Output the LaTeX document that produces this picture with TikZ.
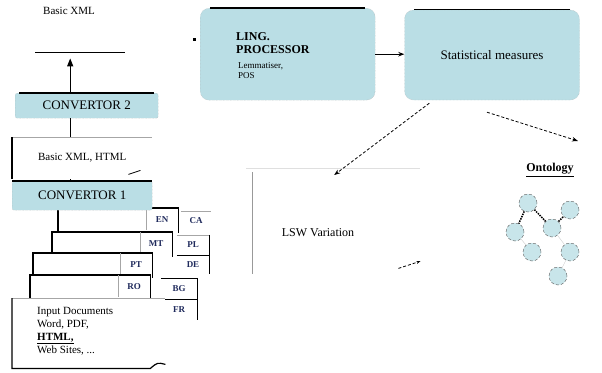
\documentclass[tikz,border=0pt]{standalone}
\usepackage{fontspec}
\setmainfont{Liberation Serif}
\usetikzlibrary{arrows.meta, positioning, calc}
\definecolor{procblue}{HTML}{BADEE5}
\definecolor{tagblue}{HTML}{1F2A5C}

\begin{document}
\begin{tikzpicture}[x=1pt, y=-1pt,
  every node/.style={inner sep=0pt},
  procbox/.style={draw=gray!60, densely dotted, fill=procblue, rounded corners=9pt},
  convbox/.style={draw=gray!60, densely dotted, fill=procblue, rounded corners=2pt, font=\fontsize{13}{15}\selectfont},
  txt/.style={anchor=north west, align=left, font=\fontsize{11}{13}\selectfont},
  tag/.style={text=tagblue, font=\fontsize{9}{10}\selectfont\bfseries},
  doc/.style={fill=white},
  edge/.style={line width=1.2pt},
  dasharrow/.style={densely dashed, thick, -{Stealth[length=6pt]}},
  concept/.style={circle, minimum size=18pt, draw=gray!70!black, densely dashed, fill=procblue!80},
]
\useasboundingbox (0,0) rectangle (602,372);

\node[minimum width=100pt, minimum height=52pt, anchor=north west] (outxml) at (30,0) {};
\node[txt] (outxmltxt) at (43,7) {Basic XML};
\draw[edge] ([xshift=5pt]outxml.south west) -- ([xshift=-5pt]outxml.south east);

\node[convbox, minimum width=143pt, minimum height=25pt, anchor=north west] (conv2) at (15,93) {CONVERTOR 2};
\draw[edge] ([xshift=4pt]conv2.north west) -- ([xshift=-4pt]conv2.north east);
\draw[edge, -{Triangle[length=8pt, width=6pt]}] ([xshift=-16.5pt]conv2.north) -- ([xshift=-16.5pt, yshift=-6pt]conv2.north |- outxml.south);

\node[minimum width=140pt, minimum height=42pt, anchor=north west, font=\fontsize{11}{13}\selectfont] (midxml) at (12,137) {Basic XML, HTML};
\draw[gray!70] (midxml.north west) -- (midxml.north east);
\draw[edge] (midxml.north west) -- (midxml.south west);
\draw[thick] ([xshift=-24pt, yshift=5pt]midxml.south east) -- ([xshift=-12pt, yshift=9pt]midxml.south east);
\draw[edge] ([xshift=-16.5pt]conv2.south) -- ([xshift=-12pt]midxml.north);

\foreach \nm/\x/\y/\w/\lang in {docA/58/208/120/EN, docB/52/232/120/MT, docC/33/253/119/PT, docD/30/275/120/RO}{
  \node[doc, minimum width=\w pt, minimum height=25pt, anchor=north west] (\nm) at (\x,\y) {};
  \draw[edge] (\nm.south west) -- (\nm.north west) -- (\nm.north east) -- (\nm.south east);
  \node[tag, minimum width=32pt, minimum height=22pt, anchor=north east] (t\lang) at (\nm.north east) {\lang};
  \draw[gray!70, thick] (t\lang.north west) -- (t\lang.south west);
}

\node[tag, minimum width=30pt, minimum height=20pt] (tCA) at (196,221) {CA};
\draw[gray!70] (tCA.north west) -- (tCA.north east);
\node[tag, minimum width=32pt, minimum height=20pt] (tPL) at (193,245) {PL};
\node[tag, minimum width=32pt, minimum height=18pt, below=0pt of tPL] (tDE) {DE};
\draw[gray!70] (tPL.north west) -- (tPL.north east);
\draw[edge] (tPL.south west) -- (tPL.south east) (tPL.north east) -- (tDE.south east);
\node[tag, minimum width=36pt, minimum height=21pt] (tBG) at (179,289) {BG};
\node[tag, minimum width=36pt, minimum height=20pt, below=0pt of tBG] (tFR) {FR};
\draw[edge] (tBG.north west) -- (tBG.north east) -- (tFR.south east);
\draw[edge] (tBG.south west) -- (tBG.south east);

\node[convbox, minimum width=140pt, minimum height=29pt, anchor=north west] (conv1) at (12,181) {CONVERTOR 1};
\draw[edge] (conv1.north west) -- (conv1.north east);
\draw[edge] ([xshift=-12pt]midxml.south) -- ([xshift=-12pt]conv1.north);

\node[doc, minimum width=153pt, minimum height=70pt, anchor=north west] (input) at (12,298) {};
\draw[gray!70] (input.north west) -- (input.north east);
\draw[edge] (input.north west) -- (input.south west) -- ([xshift=-15pt]input.south east) .. controls ([xshift=-8pt, yshift=6pt]input.south east) .. ([yshift=4pt]input.south east);
\node[txt] (inputtxt) at (37,307) {Input Documents\\Word, PDF,\\\underline{\textbf{HTML,}}\\Web Sites, ...};

\node[procbox, minimum width=175pt, minimum height=92pt, anchor=north west] (ling) at (200,8) {};
\draw[edge] ([xshift=10pt]ling.north west) -- ([xshift=-10pt]ling.north east);
\node[txt, font=\fontsize{12}{13}\selectfont\bfseries] (lingtxt) at (236,32) {LING.\\PROCESSOR};
\node[txt, font=\fontsize{9}{10}\selectfont] (lingsub) at (238,62) {Lemmatiser,\\POS};
\fill (ling.west) ++(-7,-16) rectangle ++(3,3);

\node[procbox, minimum width=175pt, minimum height=90pt, font=\fontsize{13}{15}\selectfont] (stat) at (492,55) {Statistical measures};
\draw[edge] ([xshift=10pt]stat.north west) -- ([xshift=-10pt]stat.north east);
\draw[edge, -{Stealth[length=6pt]}] (ling.east) -- (ling.east -| stat.west);

\node[minimum width=168pt, minimum height=120pt, anchor=north west] (lsw) at (252,168) {};
\draw[gray!25] ([xshift=-6pt]lsw.north west) -- (lsw.north east);
\draw[gray!80, thick] ([yshift=-4pt]lsw.north west) -- ([yshift=14pt]lsw.south west);
\node[font=\fontsize{12}{14}\selectfont] (lswtxt) at (318,233) {LSW Variation};
\draw[densely dashed, thick, -{Stealth[length=4pt]}] ([xshift=-22pt, yshift=20pt]lsw.south east) -- ([yshift=-33pt]lsw.east);

\coordinate (ontoin) at (578,141);
\draw[dasharrow] ([xshift=25pt, yshift=-3pt]stat.south west) -- ([xshift=-2pt, yshift=-7pt]lsw.north);
\draw[dasharrow] ([xshift=-5pt, yshift=-12pt]stat.south) -- (ontoin);

\node[font=\fontsize{12}{14}\selectfont\bfseries] (onto) at (550,170) {\underline{Ontology}};
\foreach \nm/\x/\y in {o1/528/203, o2/570/210, o3/552/228, o4/515/232, o5/532/252, o6/570/252, o7/558/276}
  \node[concept] (\nm) at (\x,\y) {};
\draw[densely dotted, line width=1.5pt] (o1) -- (o3) -- (o2) (o1) -- (o4);
\draw[gray!40] (o3) -- (o6) -- (o7) (o4) -- (o5);
\end{tikzpicture}
\end{document}
